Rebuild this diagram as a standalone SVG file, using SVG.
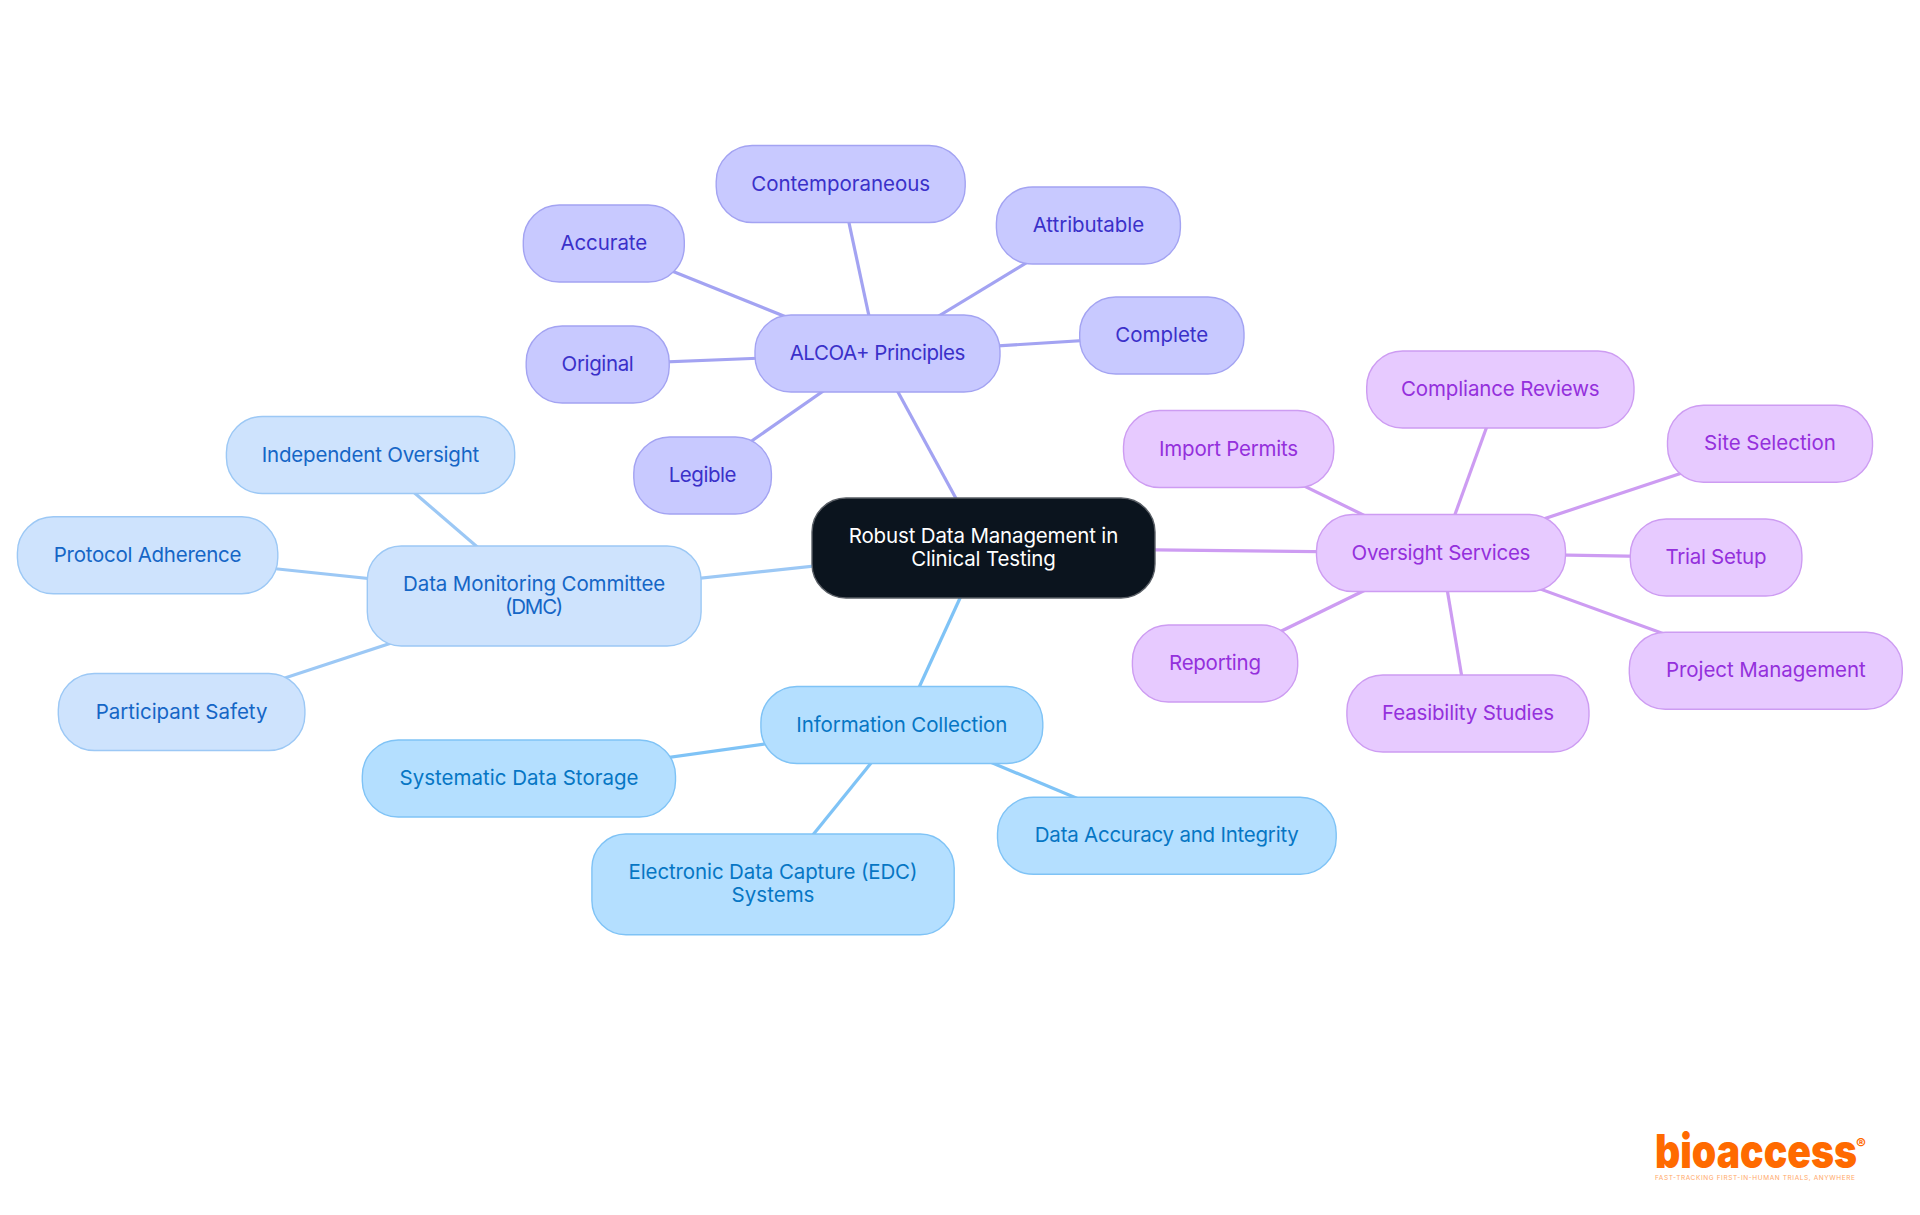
<svg xmlns="http://www.w3.org/2000/svg" width="1920" height="1215" viewBox="0 0 1920 1215">
<style>
text{font-family:"Inter","Noto Sans",sans-serif;font-size:20.5px;font-weight:400;text-anchor:middle}
.e{fill:none;stroke-width:3.2;stroke-linecap:butt}
.n rect{stroke-width:1.4}
.i rect{fill:#c8c9ff;stroke:#a3a3f2}.i text{fill:#3a30c9}.i-e{stroke:#a3a3f2}
.p rect{fill:#e7caff;stroke:#cd9cf2}.p text{fill:#9430dc}.p-e{stroke:#cd9cf2}
.b rect{fill:#cee3fd;stroke:#9cc8f5}.b text{fill:#1566c6}.b-e{stroke:#9cc8f5}
.s rect{fill:#b4dfff;stroke:#7fc3f6}.s text{fill:#0676c4}.s-e{stroke:#7fc3f6}
</style>
<g id="connectors">
<g class="e i-e">
<path d="M983 548L877 353.500"/><path d="M877 353.500L840.700 184"/><path d="M877 353.500L1088.500 225"/><path d="M877 353.500L603.700 243.600"/><path d="M877 353.500L1161.800 335.600"/><path d="M877 353.500L597.700 364.600"/><path d="M877 353.500L702.600 475.300"/>
</g>
<g class="e p-e">
<path d="M983 548L1441 553"/><path d="M1441 553L1500.300 389.500"/><path d="M1441 553L1228.600 449"/><path d="M1441 553L1770 443.800"/><path d="M1441 553L1716 557.600"/><path d="M1441 553L1215 663.500"/><path d="M1441 553L1468 713.600"/><path d="M1441 553L1765.800 670.800"/>
</g>
<g class="e b-e">
<path d="M983 548L534.200 596"/><path d="M534.200 596L370.500 455"/><path d="M534.200 596L147.600 555.300"/><path d="M534.200 596L181.600 712"/>
</g>
<g class="e s-e">
<path d="M983 548L901.800 725"/><path d="M901.800 725L519 778.300"/><path d="M901.800 725L773 884.300"/><path d="M901.800 725L1166.800 836"/>
</g>
</g>
<g id="root"><rect x="812" y="498" width="343" height="100" rx="34" fill="#0b141e" stroke="#5a5f66" stroke-width="1.4"/><text x="983.500" y="542.500" fill="#fff" textLength="269.500">Robust Data Management in</text><text x="983.500" y="565.500" fill="#fff" textLength="144.700">Clinical Testing</text></g>
<g id="alcoa" class="n i"><rect x="755" y="315" width="245" height="77" rx="36"/><text x="877.500" y="360" textLength="175.700">ALCOA+ Principles</text></g>
<g id="contemporaneous" class="n i"><rect x="716.200" y="145.500" width="249" height="77" rx="36"/><text x="840.700" y="190.500" textLength="178.900">Contemporaneous</text></g>
<g id="attributable" class="n i"><rect x="996.400" y="187" width="184" height="77" rx="36"/><text x="1088.400" y="232" textLength="111.500">Attributable</text></g>
<g id="accurate" class="n i"><rect x="523.300" y="205" width="161" height="77" rx="36"/><text x="603.800" y="250" textLength="86.800">Accurate</text></g>
<g id="complete" class="n i"><rect x="1079.700" y="297" width="164.300" height="77" rx="36"/><text x="1161.800" y="342" textLength="93">Complete</text></g>
<g id="original" class="n i"><rect x="526.200" y="326" width="143" height="77" rx="36"/><text x="597.700" y="371" textLength="72.200">Original</text></g>
<g id="legible" class="n i"><rect x="633.800" y="437" width="137.600" height="77" rx="36"/><text x="702.600" y="482" textLength="67.900">Legible</text></g>
<g id="oversight" class="n p"><rect x="1316.500" y="514.500" width="249" height="77" rx="36"/><text x="1441" y="559.500" textLength="178.900">Oversight Services</text></g>
<g id="compliance" class="n p"><rect x="1366.700" y="351" width="267.300" height="77" rx="36"/><text x="1500.300" y="396" textLength="198.700">Compliance Reviews</text></g>
<g id="import" class="n p"><rect x="1123.500" y="410.500" width="210.300" height="77" rx="36"/><text x="1228.600" y="455.500" textLength="139.100">Import Permits</text></g>
<g id="site" class="n p"><rect x="1667.500" y="405.300" width="205" height="77" rx="36"/><text x="1770" y="450.300" textLength="131.800">Site Selection</text></g>
<g id="trial" class="n p"><rect x="1630.300" y="519" width="171.600" height="77" rx="36"/><text x="1716" y="564" textLength="100.900">Trial Setup</text></g>
<g id="reporting" class="n p"><rect x="1132.400" y="625" width="165.300" height="77" rx="36"/><text x="1215" y="670" textLength="92">Reporting</text></g>
<g id="feasibility" class="n p"><rect x="1346.900" y="675" width="242.100" height="77" rx="36"/><text x="1468" y="720" textLength="172">Feasibility Studies</text></g>
<g id="project" class="n p"><rect x="1629.300" y="632.300" width="273" height="77" rx="36"/><text x="1765.800" y="677.300" textLength="199.800">Project Management</text></g>
<g id="dmc" class="n b"><rect x="367.300" y="546" width="333.800" height="100" rx="34"/><text x="534.200" y="590.500" textLength="262.200">Data Monitoring Committee</text><text x="534.200" y="613.500" textLength="58.300">(DMC)</text></g>
<g id="independent" class="n b"><rect x="226.400" y="416.500" width="288.300" height="77" rx="36"/><text x="370.500" y="461.500" textLength="217.600">Independent Oversight</text></g>
<g id="protocol" class="n b"><rect x="17.400" y="516.700" width="260.400" height="77" rx="36"/><text x="147.600" y="561.700" textLength="187.800">Protocol Adherence</text></g>
<g id="participant" class="n b"><rect x="58.300" y="673.500" width="246.600" height="77" rx="36"/><text x="181.600" y="718.500" textLength="171.700">Participant Safety</text></g>
<g id="info" class="n s"><rect x="760.900" y="686.500" width="281.900" height="77" rx="36"/><text x="901.800" y="731.500" textLength="211">Information Collection</text></g>
<g id="storage" class="n s"><rect x="362.300" y="740" width="313.200" height="77" rx="36"/><text x="519" y="785" textLength="239">Systematic Data Storage</text></g>
<g id="edc" class="n s"><rect x="591.900" y="834" width="362.300" height="100.700" rx="34"/><text x="773" y="878.500" textLength="288.900">Electronic Data Capture (EDC)</text><text x="773" y="901.500" textLength="82.900">Systems</text></g>
<g id="accuracy" class="n s"><rect x="997.500" y="797.300" width="338.700" height="77" rx="36"/><text x="1166.800" y="842.300" textLength="264">Data Accuracy and Integrity</text></g>
<g id="logo">
<text x="1756" y="1168" textLength="202" lengthAdjust="spacingAndGlyphs" style="font-size:47px;font-weight:900;fill:#ff6a00">bioaccess</text>
<text x="1861" y="1149" style="font-size:15px;font-weight:700;fill:#ff6a00">®</text>
<text x="1755" y="1179.500" textLength="200" style="font-size:6.500px;font-weight:400;fill:#ffa868">FAST-TRACKING FIRST-IN-HUMAN TRIALS, ANYWHERE</text>
</g>
</svg>
